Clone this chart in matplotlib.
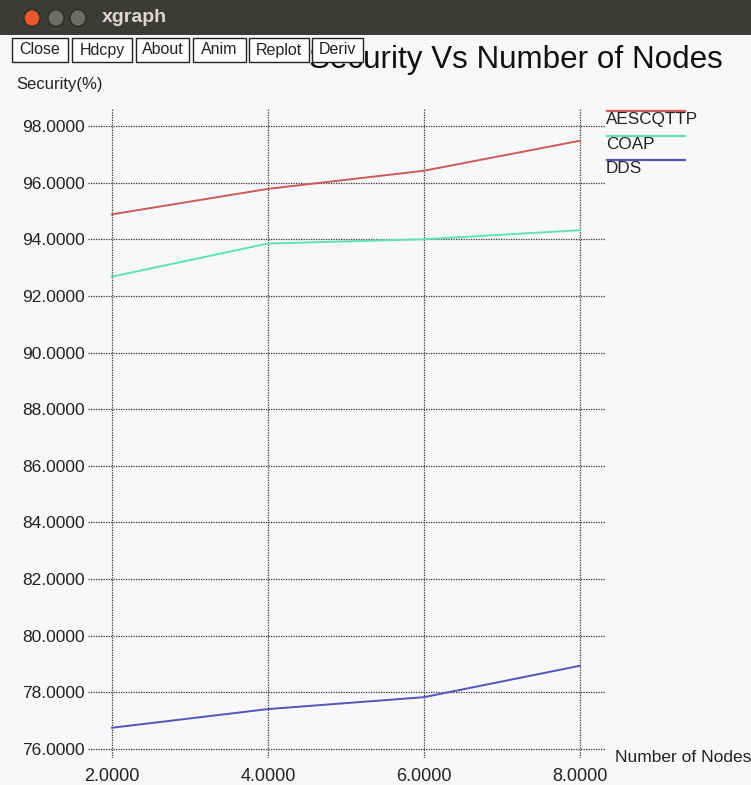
import matplotlib
matplotlib.use("Agg")
import matplotlib.pyplot as plt
from matplotlib.patches import Rectangle, Circle

# data
nodes = [2, 4, 6, 8]
aescqttp = [94.88, 95.78, 96.42, 97.48]
coap = [92.68, 93.85, 94.00, 94.32]
dds = [76.75, 77.41, 77.83, 78.94]
series_names = ["AESCQTTP", "COAP", "DDS"]
series_colors = ["#cc5a5a", "#5fe3b5", "#5555b5"]
yticks = [76, 78, 80, 82, 84, 86, 88, 90, 92, 94, 96, 98]
buttons = ["Close", "Hdcpy", "About", "Anim", "Replot", "Deriv"]

W, H = 751, 785
plt.rcParams['font.family'] = ['Liberation Sans', 'DejaVu Sans']
bg = "#f8f8fb"
fig = plt.figure(figsize=(W / 100, H / 100), dpi=100, facecolor=bg)

def fx(x):
    return x / W

def fy(y):
    return 1 - y / H

# plot area in pixels
left, right, top, bottom = 88, 605, 108, 758
ax = fig.add_axes([fx(left), fy(bottom), fx(right - left), (bottom - top) / H])
ax.set_facecolor(bg)
for s in ax.spines.values():
    s.set_visible(False)

for vals, name, col in zip([aescqttp, coap, dds], series_names, series_colors):
    ax.plot(nodes, vals, color=col, lw=1.4, label=name, zorder=3)

# 2 -> px 112, 8 -> px 580 ; 98 -> px 126, 76 -> px 749
xs = (580 - 112) / 6
ax.set_xlim(2 - (112 - left) / xs, 8 + (right - 580) / xs)
ys = (749 - 126) / 22
ax.set_ylim(76 - (bottom - 749) / ys, 98 + (126 - top) / ys)
ax.set_xticks(nodes)
ax.set_xticklabels(["%.4f" % v for v in nodes])
ax.set_yticks(yticks)
ax.set_yticklabels(["%.4f" % v for v in yticks])
ax.tick_params(length=0, colors="#222222")
ax.tick_params(axis='y', pad=2, labelsize=12.5)
ax.tick_params(axis='x', pad=7, labelsize=13)
ax.grid(True, color="#333333", ls=(0, (1, 1)), lw=0.9)

# legend drawn xgraph-style: line above label
leg_y = [111, 136, 160]
for name, col, y in zip(series_names, series_colors, leg_y):
    fig.add_artist(plt.Line2D([fx(607), fx(685)], [fy(y), fy(y)], color=col, lw=1.6))
    fig.text(fx(606), fy(y + 1), name, fontsize=12.3, va='top', ha='left', color="#222222")

fig.text(fx(16), fy(85), "Security(%)", fontsize=12, va='center', color="#222222")
fig.text(fx(615), fy(758), "Number of Nodes", fontsize=12.5, va='center', color="#222222")

# title, partially hidden by buttons (as in the xgraph window)
fig.text(fx(309), fy(60), "Security Vs Number of Nodes", fontsize=22.6, va='center',
         ha='left', color="#111111", zorder=1)

# window title bar
fig.add_artist(Rectangle((0, fy(35)), 1, 35 / H, transform=fig.transFigure,
                         facecolor="#3c3b37", edgecolor='none', zorder=2))
for cx, c in [(32, "#e8592e"), (56, "#6d6c67"), (78, "#6d6c67")]:
    fig.add_artist(Circle((fx(cx), fy(18)), 8 / W, transform=fig.transFigure,
                          facecolor=c, edgecolor="#2a2a28", zorder=3))
fig.text(fx(102), fy(18), "xgraph", fontsize=14, fontweight='bold', color="#dcd9d0",
         va='center', zorder=4)

# buttons
bx = [(12, 68), (72, 132), (136, 189), (193, 246), (249, 309), (312, 363)]
for label, (x0, x1) in zip(buttons, bx):
    fig.add_artist(Rectangle((fx(x0), fy(62)), fx(x1 - x0), 24 / H, transform=fig.transFigure,
                             facecolor="white", edgecolor="#222222", lw=1, zorder=5))
    fig.text(fx((x0 + x1) / 2), fy(50), label, fontsize=11.5, ha='center', va='center',
             color="#222222", zorder=6)

fig.savefig("out.png", dpi=100, facecolor=bg)
